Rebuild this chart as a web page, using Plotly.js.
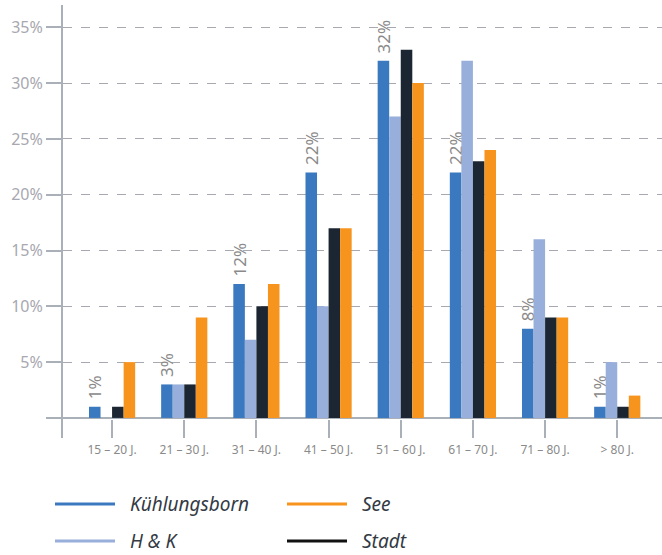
<!DOCTYPE html>
<html>
<head>
<meta charset="utf-8">
<script src="https://cdn.plot.ly/plotly-3.0.1.min.js"></script>
<style>html,body{margin:0;padding:0;background:#fff;}#chart{width:662px;height:555px;}</style>
</head>
<body>
<div id="chart"></div>
<script>
const categories = ["15 – 20 J.", "21 – 30 J.", "31 – 40 J.", "41 – 50 J.", "51 – 60 J.", "61 – 70 J.", "71 – 80 J.", "> 80 J."];
const kuehlungsborn = [1, 3, 12, 22, 32, 22, 8, 1];
const hk = [null, 3, 7, 10, 27, 32, 16, 5];
const stadt = [1, 3, 10, 17, 33, 23, 9, 1];
const see = [5, 9, 12, 17, 30, 24, 9, 2];
const yTickVals = [0, 5, 10, 15, 20, 25, 30, 35];
const yTickText = ["", "5%", "10%", "15%", "20%", "25%", "30%", "35%"];
const seriesNames = ["Kühlungsborn", "H & K", "Stadt", "See"];
const colors = ["#3a78bf", "#98aedb", "#1c2632", "#f7941d"];
const legendColors = ["#3a78bf", "#98aedb", "#111111", "#f7941d"];

const FONT = "Noto Sans, Open Sans, sans-serif";

const traces = [
  {type: "bar", x: categories, y: kuehlungsborn, name: seriesNames[0], marker: {color: colors[0]},
   text: kuehlungsborn.map(v => "\u00a0" + v + "%"), textposition: "outside", textangle: -90,
   constraintext: "none", cliponaxis: false,
   textfont: {family: FONT, size: 17, color: "#8a8a8a"}, hoverinfo: "none"},
  {type: "bar", x: categories, y: hk, name: seriesNames[1], marker: {color: colors[1]}, hoverinfo: "none"},
  {type: "bar", x: categories, y: stadt, name: seriesNames[2], marker: {color: colors[2]}, hoverinfo: "none"},
  {type: "bar", x: categories, y: see, name: seriesNames[3], marker: {color: colors[3]}, hoverinfo: "none"}
];

// manual legend (two columns: Kühlungsborn/H & K, See/Stadt)
const W = 599, H = 433, L = 63, T = 5;
const px2x = p => (p - L) / W;
const px2y = p => (T + H - p) / H;
const legendItems = [
  {i: 0, col: 0, row: 0}, {i: 1, col: 0, row: 1},
  {i: 3, col: 1, row: 0}, {i: 2, col: 1, row: 1}
];
const colLine = [[55, 115], [287, 347]];
const colText = [128, 360];
const rowY = [504, 541];
const shapes = [], annotations = [];
legendItems.forEach(it => {
  shapes.push({type: "line", xref: "paper", yref: "paper",
    x0: px2x(colLine[it.col][0]), x1: px2x(colLine[it.col][1]),
    y0: px2y(rowY[it.row]), y1: px2y(rowY[it.row]),
    line: {color: legendColors[it.i], width: 3}});
  annotations.push({xref: "paper", yref: "paper", x: px2x(colText[it.col]), y: px2y(rowY[it.row]),
    xanchor: "left", yanchor: "middle", showarrow: false, text: seriesNames[it.i],
    font: {family: FONT, size: 19, color: "#333a44", style: "italic"}});
});

const layout = {
  width: 662, height: 555,
  margin: {l: L, r: 0, t: T, b: 117},
  paper_bgcolor: "#fff", plot_bgcolor: "#fff",
  showlegend: false,
  barmode: "group", bargap: 0.36, bargroupgap: 0,
  xaxis: {
    type: "category", range: [-0.68, 7.62],
    showline: false, showgrid: false, zeroline: false,
    ticks: "inside", ticklen: 18, tickwidth: 2, tickcolor: "#aab0b8",
    tickfont: {family: FONT, size: 12, color: "#8a8a8a"},
    ticklabelstandoff: 3, fixedrange: true
  },
  yaxis: {
    range: [-1.8, 37],
    tickvals: yTickVals, ticktext: yTickText,
    ticks: "outside", ticklen: 15, tickwidth: 2, tickcolor: "#aab0b8",
    tickfont: {family: FONT, size: 16, color: "#a8a8b0"},
    showline: true, linecolor: "#aab0b8", linewidth: 2,
    showgrid: true, gridcolor: "#a8a8b0", griddash: "dash", gridwidth: 1,
    zeroline: true, zerolinecolor: "#aab0b8", zerolinewidth: 2,
    fixedrange: true
  },
  shapes: shapes,
  annotations: annotations
};

Plotly.newPlot("chart", traces, layout, {displayModeBar: false, staticPlot: true});
</script>
</body>
</html>
